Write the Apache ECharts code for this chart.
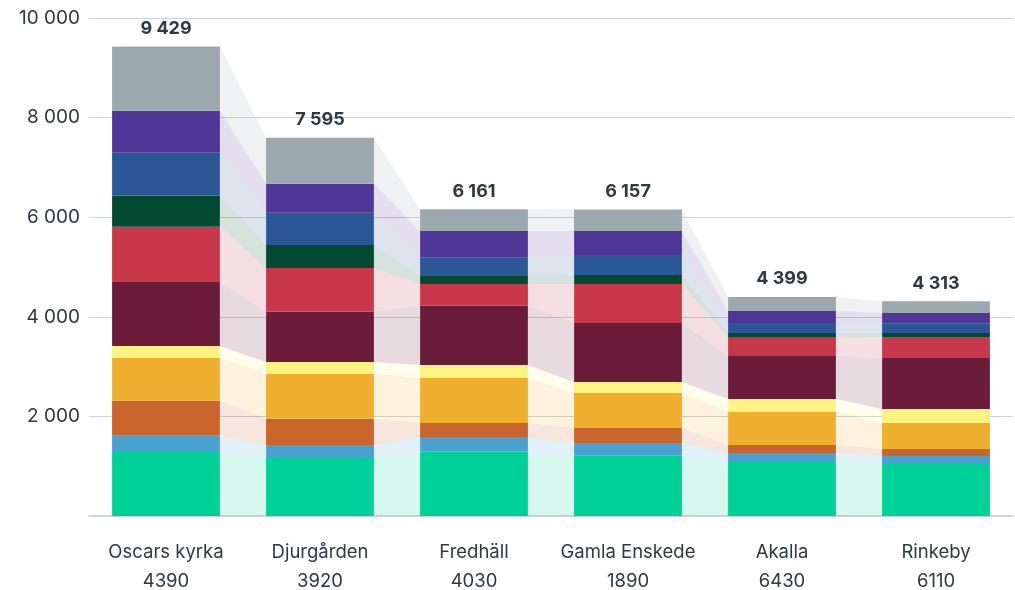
<!DOCTYPE html>
<html><head><meta charset="utf-8">
<script src="https://cdn.jsdelivr.net/npm/echarts@6/dist/echarts.min.js"></script>
<style>html,body{margin:0;padding:0;background:#fff}#c{width:1015px;height:590px}</style>
</head><body><div id="c"></div>
<script>
const categories = ['Oscars kyrka', 'Djurgården', 'Fredhäll', 'Gamla Enskede', 'Akalla', 'Rinkeby'];
const subLabels = ['4390', '3920', '4030', '1890', '6430', '6110'];
const yTicks = [0, 2000, 4000, 6000, 8000, 10000];

// segments from bottom to top
const green      = [1305, 1185, 1291, 1211, 1104, 1064];
const lightBlue  = [307, 241, 295, 255, 161, 141];
const darkOrange = [703, 528, 281, 301, 161, 140];
const orange     = [864, 903, 904, 703, 662, 522];
const yellow     = [235, 235, 261, 221, 261, 282];
const maroon     = [1285, 1010, 1191, 1185, 864, 1024];
const red        = [1110, 878, 436, 783, 367, 421];
const darkGreen  = [623, 462, 160, 180, 95, 81];
const blue       = [863, 648, 368, 402, 201, 186];
const purple     = [844, 583, 536, 482, 240, 215];
const gray       = [1290, 922, 438, 434, 283, 237];

const segments = [green, lightBlue, darkOrange, orange, yellow, maroon, red, darkGreen, blue, purple, gray];
const colors = ['#00d198', '#4aa0d0', '#c9652c', '#eeaf2e', '#fcf381', '#6a1c3a', '#c8374a', '#024b32', '#2b5797', '#4e3796', '#9ba8ae'];

const fmt = v => String(Math.round(v)).replace(/\B(?=(\d{3})+(?!\d))/g, ' ');

const bases = [];
segments.forEach((s, k) => {
  bases.push(s.map((_, i) => k === 0 ? 0 : bases[k - 1][i] + segments[k - 1][i]));
});
const totals = categories.map((_, i) => segments.reduce((a, s) => a + s[i], 0));

const FONT = 'Inter';
const textColor = '#2e3942';
const BARW = 0.70;

const series = segments.map((s, k) => ({
  type: 'bar',
  name: 'S' + (k + 1),
  stack: 'total',
  barWidth: (BARW * 100) + '%',
  data: s,
  itemStyle: { color: colors[k] },
  emphasis: { disabled: true },
  z: 3,
  label: k === segments.length - 1 ? {
    show: true, position: 'top', distance: 9,
    formatter: p => fmt(totals[p.dataIndex]),
    fontFamily: FONT, fontWeight: 'bold', fontSize: 18, color: textColor
  } : { show: false }
}));

const bandData = [];
for (let k = 0; k < segments.length; k++)
  for (let i = 0; i < categories.length - 1; i++) bandData.push([i, k]);

series.unshift({
  type: 'custom',
  silent: true,
  z: 1,
  data: bandData,
  encode: { x: 0 },
  renderItem: function (params, api) {
    const i = api.value(0), k = api.value(1);
    const half = api.size([1, 0])[0] * BARW / 2;
    const a = api.coord([i, bases[k][i]]);
    const b = api.coord([i, bases[k][i] + segments[k][i]]);
    const c = api.coord([i + 1, bases[k][i + 1] + segments[k][i + 1]]);
    const d = api.coord([i + 1, bases[k][i + 1]]);
    return {
      type: 'polygon',
      shape: { points: [[a[0] + half, a[1]], [b[0] + half, b[1]], [c[0] - half, c[1]], [d[0] - half, d[1]]] },
      style: { fill: colors[k], opacity: 0.16 }
    };
  }
});

const chart = echarts.init(document.getElementById('c'), null, { renderer: 'canvas' });
chart.setOption({
  animation: false,
  backgroundColor: '#ffffff',
  grid: { left: 89, right: 2, top: 18, bottom: 74, containLabel: false, outerBoundsMode: 'none' },
  xAxis: {
    type: 'category',
    data: categories,
    axisLine: { lineStyle: { color: '#c3ced6', width: 1.5 } },
    axisTick: { alignWithLabel: true, length: 7, lineStyle: { color: '#c3ced6', width: 1.5 } },
    axisLabel: {
      interval: 0,
      margin: 22,
      formatter: (v, i) => v + '\n' + subLabels[i],
      fontFamily: FONT, fontSize: 18.5, lineHeight: 29, color: textColor
    }
  },
  yAxis: {
    type: 'value',
    min: yTicks[0], max: yTicks[yTicks.length - 1], interval: yTicks[1] - yTicks[0],
    axisLine: { show: false },
    axisTick: { show: false },
    splitLine: { lineStyle: { color: '#c9d4db', width: 1.2 } },
    axisLabel: {
      margin: 9,
      formatter: v => v === 0 ? '' : fmt(v),
      fontFamily: FONT, fontSize: 19, color: textColor
    }
  },
  series: series
});
</script>
</body></html>
